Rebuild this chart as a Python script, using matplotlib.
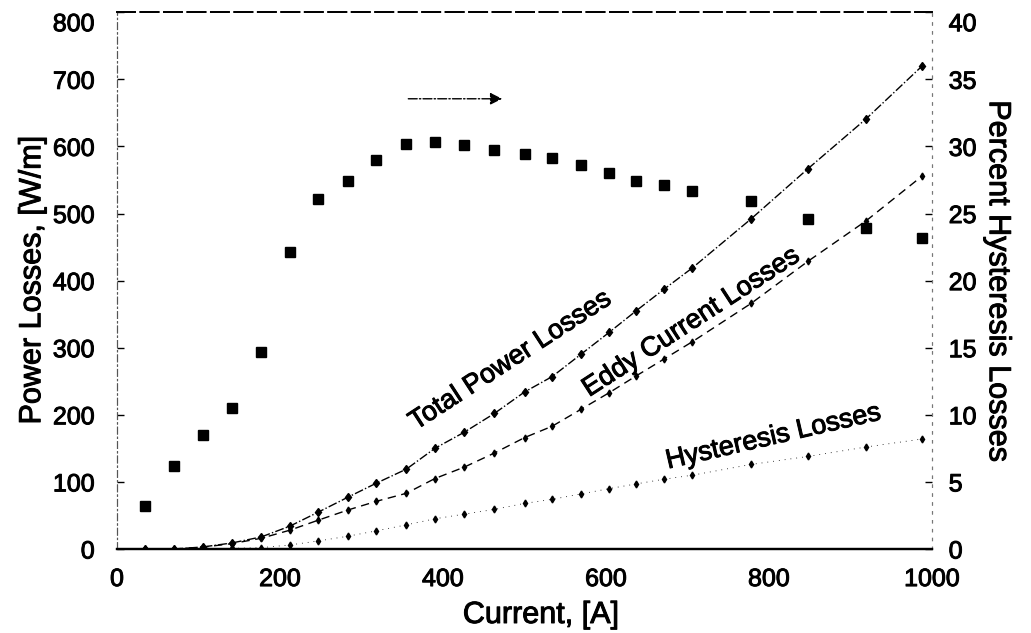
import matplotlib
matplotlib.use("Agg")
import matplotlib.pyplot as plt
import matplotlib.patheffects as pe

plt.rcParams['font.family'] = ['Liberation Sans', 'DejaVu Sans']

# Current, [A]
current = [34, 70, 105, 141, 177, 212, 247, 283, 318, 355, 390, 426,
           463, 500, 534, 569, 604, 637, 671, 706, 778, 848, 919, 988]

# Loss components, [W/m]
total_losses = [0, 0, 3, 9, 18, 34, 55, 77, 98, 119, 150, 174,
                202, 234, 257, 290, 323, 355, 387, 419, 492, 567, 641, 720]
eddy_losses = [0, 0, 2.7, 8, 16, 28, 43, 58, 71, 83, 105, 122,
               143, 166, 183, 208, 233, 258, 283, 309, 366, 429, 489, 556]
hysteresis_losses = [0, 0, 0.3, 1, 2, 6, 12, 19, 27, 36, 45, 52,
                     59, 68, 74, 82, 90, 97, 104, 110, 126, 138, 152, 164]

# Hysteresis share of the total, [%]
percent_hysteresis = [3.2, 6.2, 8.5, 10.5, 14.7, 22.1, 26.1, 27.4, 29.0, 30.2, 30.3, 30.1,
                      29.7, 29.4, 29.1, 28.6, 28.0, 27.4, 27.1, 26.7, 25.9, 24.6, 23.9, 23.2]

left_ticks = [0, 100, 200, 300, 400, 500, 600, 700, 800]
right_ticks = [0, 5, 10, 15, 20, 25, 30, 35, 40]
x_ticks = [0, 200, 400, 600, 800, 1000]

# slightly heavier strokes for all lettering
heavy = [pe.withStroke(linewidth=0.7, foreground='black')]

fig = plt.figure(figsize=(10.31, 6.33), dpi=100)
ax = fig.add_axes([0.1135, 0.1327, 0.7905, 0.848])
ax2 = ax.twinx()

ax.plot(current, total_losses, color='black', lw=1.0, ls='-.',
        marker='d', ms=4.5, mec='black', mfc='black')
ax.plot(current, eddy_losses, color='black', lw=1.0, ls=(0, (6, 4)),
        marker='d', ms=3.5, mec='black', mfc='black')
ax.plot(current, hysteresis_losses, color='black', lw=0.6, ls=(0, (1, 6)),
        marker='d', ms=3.5, mec='black', mfc='black')

ax2.plot(current, percent_hysteresis, ls='none', marker='s', ms=7,
         color='black')

ax.set_xlim(0, 1000)
ax.set_ylim(0, 800)
ax2.set_ylim(0, 40)

ax.set_xticks(x_ticks)
ax.set_yticks(left_ticks)
ax2.set_yticks(right_ticks)

ax.tick_params(axis='y', direction='in', length=5, width=1, pad=16)
ax.tick_params(axis='x', direction='in', length=0, pad=13)
ax2.tick_params(axis='y', direction='in', length=5, width=1, pad=12)
for lab in ax.get_xticklabels() + ax.get_yticklabels() + ax2.get_yticklabels():
    lab.set_fontsize(18)
    lab.set_path_effects(heavy)

# the topmost values sit just under the frame
ax.get_yticklabels()[-1].set_verticalalignment('top')
ax2.get_yticklabels()[-1].set_verticalalignment('top')

ax.set_xlabel('Current, [A]', fontsize=22, path_effects=heavy)
ax.xaxis.set_label_coords(0.52, -0.095)
ax.set_ylabel('Power Losses, [W/m]', fontsize=22, labelpad=4,
              path_effects=heavy)
ax2.set_ylabel('Percent Hysteresis Losses', fontsize=22, rotation=-90,
               labelpad=26, path_effects=heavy)

# frame styling
for a in (ax, ax2):
    a.spines['top'].set_linestyle((0, (10, 3)))
    a.spines['top'].set_linewidth(1.3)
    a.spines['left'].set_linestyle((0, (6, 3, 1, 3)))
    a.spines['left'].set_color('#555555')
    a.spines['left'].set_linewidth(0.8)
    a.spines['right'].set_linestyle((0, (2, 6)))
    a.spines['right'].set_color('#777777')
    a.spines['right'].set_linewidth(0.8)
    a.spines['bottom'].set_linewidth(1.6)

# curve labels
ax.text(483, 281, 'Total Power Losses', fontsize=19.5, rotation=33,
        ha='center', va='center', rotation_mode='anchor', path_effects=heavy)
ax.text(705, 338, 'Eddy Current Losses', fontsize=19.5, rotation=33,
        ha='center', va='center', rotation_mode='anchor', path_effects=heavy)
ax.text(806, 167, 'Hysteresis Losses', fontsize=19.5, rotation=13,
        ha='center', va='center', rotation_mode='anchor', path_effects=heavy)

# arrow pointing to the right-hand scale
ax.annotate('', xy=(476, 671), xytext=(354, 671),
            arrowprops=dict(arrowstyle='-|>', color='black', lw=1.0,
                            ls='-.', mutation_scale=18))

fig.savefig('out.png', dpi=100)
